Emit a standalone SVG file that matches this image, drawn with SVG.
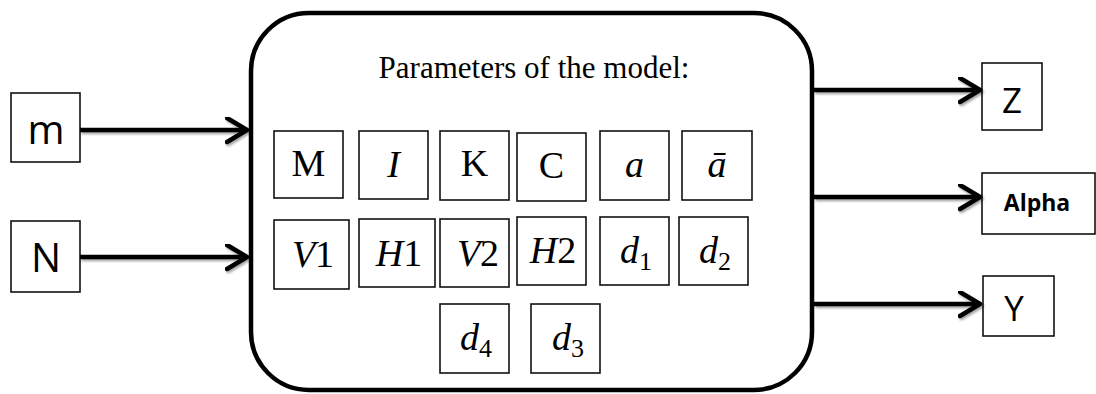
<svg xmlns="http://www.w3.org/2000/svg" width="1096" height="394" viewBox="0 0 1096 394">
<style>
.box{fill:#fff;stroke:#111;stroke-width:1.6}
.main{fill:#fff;stroke:#000;stroke-width:4.5}
.conn{stroke:#000;stroke-width:4.5;fill:none}
.sans{font-family:"Open Sans","Liberation Sans",sans-serif;fill:#000}
.serif{font-family:"Liberation Serif","Times New Roman",serif;fill:#000}
.it{font-style:italic}
.p{font-size:38px;text-anchor:middle}
.sub{font-size:26px;font-style:normal}
</style>
<defs>
<marker id="arr" markerUnits="userSpaceOnUse" markerWidth="30" markerHeight="30" refX="22" refY="13" orient="auto">
<path d="M2,1 L22,13 L2,25" fill="none" stroke="#000" stroke-width="4.5" stroke-linecap="round" stroke-linejoin="round"/>
</marker>
<filter id="sh" x="-10%" y="-50%" width="120%" height="200%">
<feDropShadow dx="1.5" dy="2" stdDeviation="1.2" flood-color="#000" flood-opacity="0.35"/>
</filter>
</defs>

<g id="model">
<rect class="main" x="251" y="13" width="561" height="377" rx="58" ry="58"/>
<text class="serif" x="534" y="78" font-size="31" text-anchor="middle">Parameters of the model:</text>
</g>

<g id="in-m"><rect class="box" x="11" y="93" width="69" height="69"/><text class="sans" x="46" y="144" font-size="40" text-anchor="middle">m</text></g>
<g id="in-N"><rect class="box" x="11" y="221" width="69" height="71"/><text class="sans" x="46" y="272" font-size="40" text-anchor="middle">N</text></g>

<g id="out-Z"><rect class="box" x="982" y="63" width="60" height="67"/><text class="sans" x="1012" y="113" font-size="35" text-anchor="middle">Z</text></g>
<g id="out-Alpha"><rect class="box" x="982" y="173" width="113" height="61"/><text class="sans" x="1037" y="211" font-size="23" font-weight="bold" text-anchor="middle" font-family="Liberation Sans">Alpha</text></g>
<g id="out-Y"><rect class="box" x="983" y="276" width="71" height="60"/><text class="sans" x="1014" y="321" font-size="35" text-anchor="middle">Y</text></g>

<g id="p-M"><rect class="box" x="274" y="131" width="69" height="67"/><text class="serif p" x="308.5" y="176">M</text></g>
<g id="p-I"><rect class="box" x="359" y="131" width="69" height="68"/><text class="serif p it" x="393.5" y="177">I</text></g>
<g id="p-K"><rect class="box" x="440" y="131" width="69" height="69"/><text class="serif p" x="474.5" y="176">K</text></g>
<g id="p-C"><rect class="box" x="517" y="133" width="69" height="68"/><text class="serif p" x="551.5" y="178">C</text></g>
<g id="p-a"><rect class="box" x="600" y="131" width="69" height="69"/><text class="serif p it" x="634.5" y="177">a</text></g>
<g id="p-abar"><rect class="box" x="682" y="131" width="70" height="69"/><text class="serif p it" x="717" y="177">ā</text></g>

<g id="p-V1"><rect class="box" x="274" y="220" width="75" height="69"/><text class="serif p" x="313" y="267"><tspan class="it">V</tspan>1</text></g>
<g id="p-H1"><rect class="box" x="359" y="219" width="76" height="68"/><text class="serif p" x="399" y="266"><tspan class="it">H</tspan>1</text></g>
<g id="p-V2"><rect class="box" x="440" y="219" width="69" height="68"/><text class="serif p" x="478" y="266"><tspan class="it">V</tspan>2</text></g>
<g id="p-H2"><rect class="box" x="517" y="217" width="69" height="68"/><text class="serif p" x="553" y="263"><tspan class="it">H</tspan>2</text></g>
<g id="p-d1"><rect class="box" x="600" y="217" width="69" height="68"/><text class="serif p" x="636" y="263"><tspan class="it">d</tspan><tspan class="sub" dy="7">1</tspan></text></g>
<g id="p-d2"><rect class="box" x="679" y="217" width="69" height="68"/><text class="serif p" x="715" y="263"><tspan class="it">d</tspan><tspan class="sub" dy="7">2</tspan></text></g>

<g id="p-d4"><rect class="box" x="440" y="304" width="69" height="69"/><text class="serif p" x="476" y="350"><tspan class="it">d</tspan><tspan class="sub" dy="7">4</tspan></text></g>
<g id="p-d3"><rect class="box" x="531" y="304" width="69" height="69"/><text class="serif p" x="568" y="350"><tspan class="it">d</tspan><tspan class="sub" dy="7">3</tspan></text></g>

<g id="connectors" filter="url(#sh)">
<line class="conn" x1="80" y1="130" x2="247" y2="130" marker-end="url(#arr)"/>
<line class="conn" x1="80" y1="257" x2="247" y2="257" marker-end="url(#arr)"/>
<line class="conn" x1="814" y1="90" x2="980" y2="90" marker-end="url(#arr)"/>
<line class="conn" x1="814" y1="197" x2="980" y2="197" marker-end="url(#arr)"/>
<line class="conn" x1="814" y1="304" x2="980" y2="304" marker-end="url(#arr)"/>
</g>
</svg>
